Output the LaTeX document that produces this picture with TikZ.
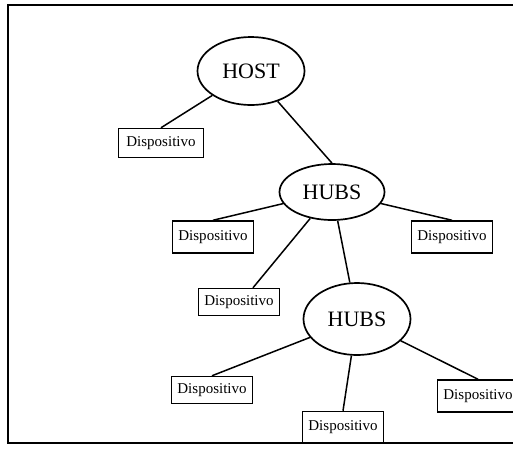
\documentclass[tikz,border=0pt]{standalone}
\usepackage{fontspec}
\setmainfont{Liberation Serif}
\usetikzlibrary{shapes.geometric}

\tikzset{
	hub/.style={draw, ellipse, line width=1.7pt, inner sep=0pt, font=\fontsize{22}{22}\selectfont},
	device/.style={draw, rectangle, line width=1.5pt, inner xsep=6pt, minimum height=29pt, font=\fontsize{15}{15}\selectfont},
	link/.style={line width=1.5pt}
}

\begin{document}
\begin{tikzpicture}[x=1pt, y=-1pt]
		\useasboundingbox (0,0) rectangle (513,448);
		\draw[line width=2.6pt] (518,5) -- (8,5) -- (8,443) -- (518,443);
		\node[hub, minimum width=107pt, minimum height=68pt] (host) at (251,71) {HOST};
		\node[hub, minimum width=105pt, minimum height=56pt] (hubA) at (332,192) {HUBS};
		\node[hub, minimum width=107pt, minimum height=72pt] (hubB) at (357,319) {HUBS};
		\node[device, minimum width=85pt] (devA) at (161,143) {Dispositivo};
		\node[device, minimum height=32pt] (devB) at (213,237) {Dispositivo};
		\node[device, minimum height=32pt] (devC) at (452,237) {Dispositivo};
		\node[device, minimum height=27pt] (devD) at (239,302) {Dispositivo};
		\node[device, minimum height=27pt] (devE) at (212,390) {Dispositivo};
		\node[device, minimum height=31pt] (devF) at (343,427) {Dispositivo};
		\node[device, minimum height=32pt] (devG) at (478,396) {Dispositivo};
		\draw[link] (host) -- (devA.north);
		\draw[link] (host) -- (hubA.north);
		\draw[link] (hubA) -- (devB.north);
		\draw[link] (hubA) -- (devC.north);
		\draw[link] (hubA) -- ([xshift=14pt]devD.north);
		\draw[link] (hubA) -- (hubB);
		\draw[link] (hubB) -- (devE.north);
		\draw[link] (hubB) -- (devF.north);
		\draw[link] (hubB) -- (devG.north);
\end{tikzpicture}
\end{document}
